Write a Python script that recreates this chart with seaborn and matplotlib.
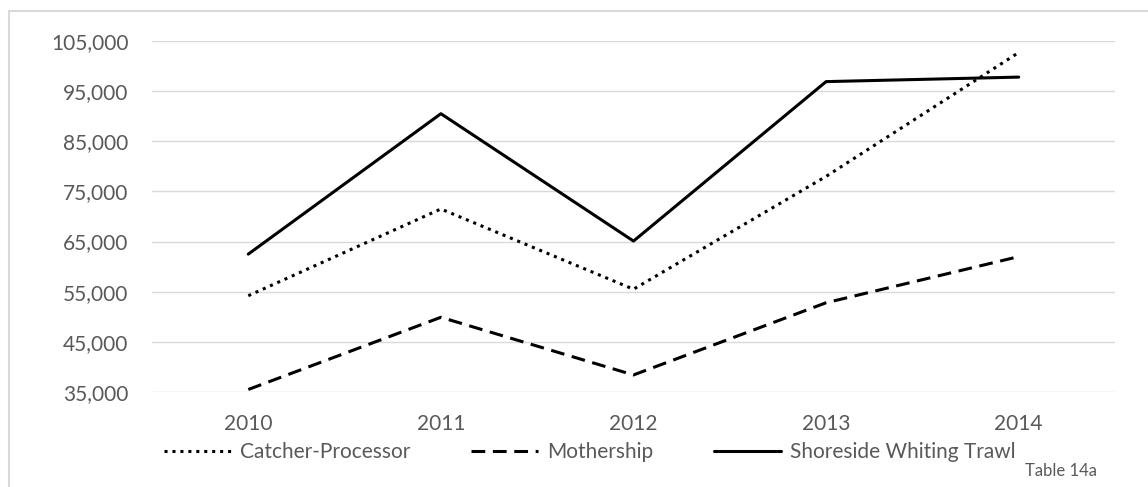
#data wrangling imports
import pandas as pd
import numpy as np

#vizualizations
import matplotlib.pyplot as plt
import seaborn as sns
from matplotlib.patches import Rectangle

# chart data
years = ["2010", "2011", "2012", "2013", "2014"]
catcher_processor = [54200, 71500, 55500, 78000, 102700]
mothership = [35500, 49900, 38400, 52800, 62000]
shoreside = [62500, 90500, 65100, 96900, 97800]
series_names = ["Catcher-Processor", "Mothership", "Shoreside Whiting Trawl"]
y_ticks = [35000, 45000, 55000, 65000, 75000, 85000, 95000, 105000]

df = pd.DataFrame({
    "year": years * 3,
    "value": catcher_processor + mothership + shoreside,
    "sector": np.repeat(series_names, len(years)),
})

sns.set_theme(style="white")
plt.rcParams['font.family'] = ['Lato', 'DejaVu Sans']
text_color = '#595959'

fig = plt.figure(figsize=(11.48, 4.87), dpi=100)
ax = fig.add_axes([152/1148, 1 - 392/487, (1115-152)/1148, (392-41)/487])

styles = {
    "Catcher-Processor": (0, (1, 1.6)),
    "Mothership": (0, (4.5, 2.5)),
    "Shoreside Whiting Trawl": "-",
}

for name in series_names:
    sub = df[df.sector == name]
    sns.lineplot(x="year", y="value", data=sub, ax=ax, color='black',
                 linewidth=2.2, linestyle=styles[name], label=name, sort=False)

ax.set_xlim(-0.5, len(years) - 0.5)
ax.set_ylim(y_ticks[0], y_ticks[-1])
ax.set_yticks(y_ticks)
ax.set_yticklabels([f"{v:,}" for v in y_ticks])
ax.yaxis.grid(True, color='#d9d9d9', linewidth=1)
ax.xaxis.grid(False)
for s in ax.spines.values():
    s.set_visible(False)
ax.tick_params(axis='both', length=0, labelsize=15, labelcolor=text_color)
ax.tick_params(axis='y', pad=17)
ax.tick_params(axis='x', pad=16)
ax.set_xlabel("")
ax.set_ylabel("")

leg = ax.legend(loc='center', bbox_to_anchor=(590/1148, 1 - 452/487),
                bbox_transform=fig.transFigure, ncol=3, frameon=False,
                fontsize=15, handlelength=3.2, handletextpad=0.45,
                columnspacing=2.9, borderpad=0)
for t in leg.get_texts():
    t.set_color(text_color)

fig.text(1097/1148, 1 - 471/487, "Table 14a", ha='right', va='center',
         fontsize=12, color=text_color)

# light border round the chart
fig.patches.append(Rectangle((9/1148, -0.01), 1.2, 1 - 11/487 + 0.01,
                             transform=fig.transFigure, fill=False,
                             edgecolor='#d9d9d9', linewidth=1.5))

fig.savefig("out.png", dpi=100)
